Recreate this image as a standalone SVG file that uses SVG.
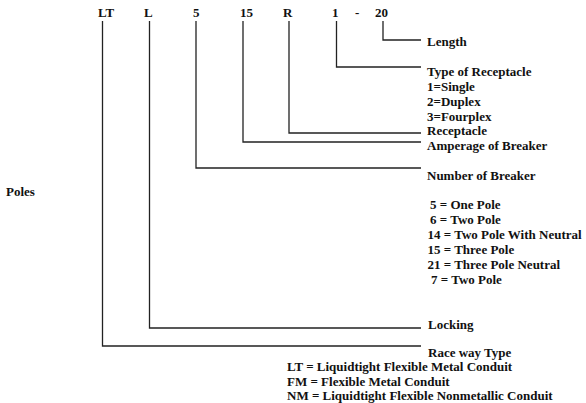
<svg xmlns="http://www.w3.org/2000/svg" width="586" height="403" viewBox="0 0 586 403">
<style>
text{font-family:"Liberation Serif","Times New Roman",serif;font-weight:bold;font-size:13px;fill:#111}
.c{fill:none;stroke:#222;stroke-width:1.3}
</style>
<rect width="586" height="403" fill="#fff"/>
<g id="codes">
<text x="98" y="17">LT</text>
<text x="144" y="17">L</text>
<text x="193" y="17">5</text>
<text x="240" y="17">15</text>
<text x="283" y="17">R</text>
<text x="332" y="17">1</text>
<text x="355" y="17">-</text>
<text x="375" y="17">20</text>
</g>
<g id="connectors">
<polyline class="c" points="383,21 383,40 421,40"/>
<polyline class="c" points="336.5,21 336.5,67 421,67"/>
<polyline class="c" points="289,21 289,133 421,133"/>
<polyline class="c" points="243,21 243,142 421,142"/>
<polyline class="c" points="196,21 196,168 421,168"/>
<polyline class="c" points="149.5,21 149.5,328 421,328"/>
<polyline class="c" points="102.5,21 102.5,346 421,346"/>
</g>
<g id="length"><text x="427" y="46">Length</text></g>
<g id="type-of-receptacle">
<text x="427" y="76">Type of Receptacle</text>
<text x="427" y="91">1=Single</text>
<text x="427" y="106">2=Duplex</text>
<text x="427" y="120.5">3=Fourplex</text>
</g>
<g id="receptacle"><text x="427" y="135">Receptacle</text></g>
<g id="amperage"><text x="427" y="149.5">Amperage of Breaker</text></g>
<g id="number-of-breaker"><text x="427" y="179.5">Number of Breaker</text></g>
<g id="poles">
<text x="6" y="195.5">Poles</text>
<text x="430" y="208.5">5 = One Pole</text>
<text x="430" y="223.5">6 = Two Pole</text>
<text x="427.5" y="238.5">14 = Two Pole With Neutral</text>
<text x="427.5" y="254">15 = Three Pole</text>
<text x="427.5" y="268.5">21 = Three Pole Neutral</text>
<text x="431" y="283.5">7 = Two Pole</text>
</g>
<g id="locking"><text x="428" y="329">Locking</text></g>
<g id="raceway-type">
<text x="428" y="357">Race way Type</text>
<text x="287" y="371">LT = Liquidtight Flexible Metal Conduit</text>
<text x="287" y="385.5">FM = Flexible Metal Conduit</text>
<text x="287" y="400">NM = Liquidtight Flexible Nonmetallic Conduit</text>
</g>
</svg>
